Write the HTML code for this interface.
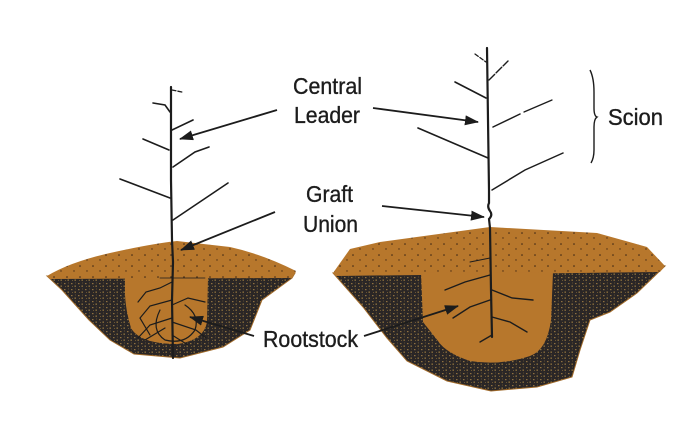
<!DOCTYPE html>
<html>
<head>
<meta charset="utf-8">
<style>
  html, body { margin:0; padding:0; background:#fff; }
  body { width:700px; height:427px; overflow:hidden; }
  svg { display:block; }
  .lbl { font-family:"Liberation Sans", Arial, sans-serif; font-size:23px; fill:#1c1c1c; stroke:#1c1c1c; stroke-width:0.35; }
</style>
</head>
<body>
<svg width="700" height="427" viewBox="0 0 700 427" xmlns="http://www.w3.org/2000/svg">
  <defs>
    <pattern id="dark" width="7" height="6" patternUnits="userSpaceOnUse">
      <rect width="7" height="6" fill="#2a2626"/>
      <rect x="1" y="1" width="1.5" height="1.2" fill="#8e7040"/>
      <rect x="4.5" y="3.5" width="1.4" height="1.3" fill="#9a7a40"/>
      <rect x="5" y="0.5" width="1" height="1" fill="#5e4c30"/>
      <rect x="2" y="4" width="1" height="1" fill="#6a5634"/>
    </pattern>
    <pattern id="soil" width="13" height="11" patternUnits="userSpaceOnUse">
      <rect width="13" height="11" fill="#b7772c"/>
      <circle cx="2" cy="2" r="0.8" fill="#3a2414"/>
      <circle cx="9" cy="7" r="0.7" fill="#4a2c14"/>
    </pattern>
    <marker id="ah" markerWidth="14" markerHeight="10" refX="13" refY="5" orient="auto" markerUnits="userSpaceOnUse">
      <path d="M0,0 L14,5 L0,10 Z" fill="#1c1c1c"/>
    </marker>
  </defs>

  <!-- LEFT MOUND -->
  <path d="M47,276 L295,273 L292,278 L262,300 L250,330 L223,347 L180,358 L134,354 L110,340 L89,320 L62,290 Z" fill="url(#dark)" stroke="#a06a2a" stroke-width="1"/>
  <path d="M47,276 Q70,262 110,253 Q150,244 177,241 L230,247 Q262,254 296,271 L292,278 L50,279 Z" fill="url(#soil)"/>
  <path d="M125,278 L208,278 L207,322 Q204,340 178,344 Q140,344 131,328 Q126,312 125,295 Z" fill="#b7772c"/>

  <!-- RIGHT MOUND -->
  <path d="M333,273 L665,266 L637,293 L610,312 L590,320 L580,350 L572,377 L537,387 L491,391 L447,381 L407,361 L387,338 L363,307 Z" fill="url(#dark)" stroke="#a06a2a" stroke-width="1"/>
  <path d="M333,273 L350,249 L380,242 L490,227 L597,233 L647,247 L665,266 L660,272 L336,276 Z" fill="url(#soil)"/>
  <path d="M421,273 L553,272 L551,320 Q547,350 530,356 Q500,366 470,361 Q446,353 438,341 L423,322 Z" fill="#b7772c"/>

  <!-- LEFT TREE -->
  <g stroke="#1c1c1c" fill="none" stroke-linecap="round">
    <path d="M171,87 L171,180 L172,240 L173,262 L172,300 L173,358" stroke-width="2.2"/>
    <path d="M172,90 L182,92" stroke-width="1.3" stroke-dasharray="4 2"/>
    <path d="M153,103 L165,105 L170,112" stroke-width="1.6"/>
    <path d="M172,130 L193,120" stroke-width="1.6"/>
    <path d="M143,139 L169,150" stroke-width="1.6"/>
    <path d="M173,167 L195,152 L209,147" stroke-width="1.6"/>
    <path d="M120,179 L170,198" stroke-width="1.6"/>
    <path d="M173,220 L228,183" stroke-width="1.6"/>
    <g stroke-width="1.2">
      <path d="M172,282 L160,288 L146,292 L138,302"/>
      <path d="M172,300 L150,306 L140,318 L150,335"/>
      <path d="M172,305 L188,298 L205,302"/>
      <path d="M160,310 Q150,330 165,340 Q185,345 195,330 Q200,315 185,305"/>
      <path d="M172,318 L150,325 L138,338"/>
      <path d="M172,322 L196,330 L206,338"/>
      <path d="M165,328 L145,340"/>
      <path d="M172,335 L188,345"/>
      <path d="M160,278 L205,278" stroke-width="0.8"/>
    </g>
  </g>

  <!-- RIGHT TREE -->
  <g stroke="#1c1c1c" fill="none" stroke-linecap="round">
    <path d="M487,48 L488,120 L489,190 L489,203 Q487,207 490,211 Q493,215 489,219 L490,228 L491,290 L492,337" stroke-width="2.2"/>
    <path d="M475,54 L486,62" stroke-width="1.3" stroke-dasharray="4 2"/>
    <path d="M489,80 L508,61" stroke-width="1.4" stroke-dasharray="8 2"/>
    <path d="M455,82 L486,98" stroke-width="1.6"/>
    <path d="M493,127 L520,114" stroke-width="1.5"/>
    <path d="M524,112 L552,100" stroke-width="1.3"/>
    <path d="M418,128 L488,158" stroke-width="1.6"/>
    <path d="M492,190 L525,170 L563,153" stroke-width="1.5"/>
    <g stroke-width="1.4">
      <path d="M490,275 L465,282 L445,290"/>
      <path d="M492,290 L512,298 L533,300"/>
      <path d="M490,300 L470,307 L453,318"/>
      <path d="M492,317 L510,322 L527,332"/>
      <path d="M492,335 L480,342"/>
      <path d="M490,258 L470,262" stroke-width="1"/>
    </g>
  </g>

  <!-- ARROWS -->
  <g stroke="#1c1c1c" stroke-width="1.8" fill="none">
    <line x1="277" y1="110" x2="180" y2="139" marker-end="url(#ah)"/>
    <line x1="373" y1="108" x2="478" y2="122" marker-end="url(#ah)"/>
    <line x1="275" y1="212" x2="181" y2="250" marker-end="url(#ah)"/>
    <line x1="382" y1="206" x2="484" y2="217" marker-end="url(#ah)"/>
    <line x1="254" y1="336" x2="190" y2="317" marker-end="url(#ah)"/>
    <line x1="364" y1="336" x2="458" y2="306" marker-end="url(#ah)"/>
    <path d="M590,70 Q594,78 594,92 L594,108 Q594,116 597,117 Q594,119 594,127 L594,150 Q594,158 591,163" stroke-width="1.4"/>
  </g>

  <!-- LABELS -->
  <text class="lbl" x="293" y="94" textLength="69" lengthAdjust="spacingAndGlyphs">Central</text>
  <text class="lbl" x="294" y="123" textLength="66" lengthAdjust="spacingAndGlyphs">Leader</text>
  <text class="lbl" x="306" y="202" textLength="47" lengthAdjust="spacingAndGlyphs">Graft</text>
  <text class="lbl" x="303" y="232" textLength="55" lengthAdjust="spacingAndGlyphs">Union</text>
  <text class="lbl" x="608" y="125" textLength="55" lengthAdjust="spacingAndGlyphs">Scion</text>
  <rect x="256" y="326" width="106" height="26" fill="#fff"/>
  <text class="lbl" x="263" y="347" textLength="95" lengthAdjust="spacingAndGlyphs">Rootstock</text>
</svg>
</body>
</html>
